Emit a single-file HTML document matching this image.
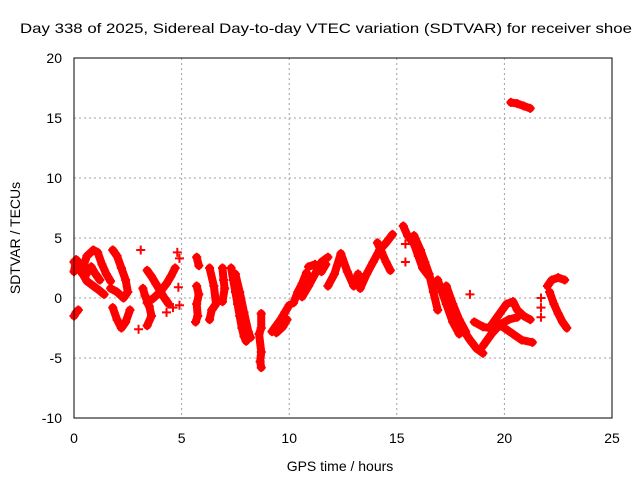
<!DOCTYPE html>
<html><head><meta charset="utf-8"><style>
body{margin:0;background:#fff}
svg{display:block;font-family:"Liberation Sans",sans-serif}
</style></head><body>
<svg id="chart" width="640" height="480" viewBox="0 0 640 480">
<rect width="640" height="480" fill="#fff"/>
<text x="20" y="33" font-size="14" textLength="612" lengthAdjust="spacingAndGlyphs">Day 338 of 2025, Sidereal Day-to-day VTEC variation (SDTVAR) for receiver shoe</text>
<g id="grid"></g>
<g id="ticks" font-size="14"></g>
<g id="marks"></g>
<rect x="74" y="58" width="538" height="360" fill="none" stroke="#000" stroke-width="1"/>
<text x="340" y="471" font-size="14" text-anchor="middle">GPS time / hours</text>
<text transform="translate(20,238) rotate(-90)" font-size="14" text-anchor="middle">SDTVAR / TECUs</text>
</svg>
<script>
const xTicks=[0,5,10,15,20,25];
const yTicks=[-10,-5,0,5,10,15,20];
const trackA=[[0,3.0],[0.2,2.5],[0.4,2.0],[0.6,1.4],[0.9,1.0],[1.2,0.6],[1.4,0.3]];
const trackB=[[0.4,2.5],[0.6,3.5],[0.9,4.0],[1.1,3.8],[1.3,2.8],[1.5,2.0],[1.7,1.4]];
const trackC=[[0,-1.5],[0.1,-1.2],[0.2,-1.0]];
const trackA2=[[0,2.2],[0.1,3.2],[0.3,2.8],[0.5,1.8],[0.8,2.6],[1.0,2.0],[1.2,1.5]];
const trackD=[[1.8,4.0],[2.0,3.5],[2.2,2.5],[2.4,1.5],[2.5,0.5],[2.3,0.0],[2.0,0.5],[1.7,0.8]];
const trackE=[[1.8,-0.8],[2.0,-1.8],[2.2,-2.5],[2.4,-2.0],[2.6,-1.0]];
const trackF=[[3.4,2.3],[3.6,1.8],[3.8,1.2],[4.0,0.6],[4.2,0.0],[4.4,-0.5]];
const trackG=[[3.4,-0.4],[3.7,0.0],[4.0,0.5],[4.3,1.2],[4.5,1.8],[4.7,2.5]];
const trackH=[[3.2,0.8],[3.3,0.2],[3.5,-0.7],[3.6,-1.5],[3.4,-2.3]];
const trackI=[[3.1,4.0],[4.8,3.8],[4.9,3.3],[4.85,0.9],[4.9,-0.6],[3.0,-2.6],[4.6,-0.8],[4.3,-1.2]];
const trackJ1=[[5.7,3.4],[5.8,2.7]];
const trackJ2=[[5.7,1.0],[5.8,0.3],[5.7,-0.5],[5.75,-1.5],[5.65,-2.0]];
const trackK=[[6.3,2.5],[6.5,1.0],[6.6,-0.5],[6.4,-1.0],[6.3,-1.8]];
const trackL=[[6.9,2.5],[6.95,1.5],[7.0,0.8],[6.9,-0.3]];
const trackM=[[7.3,2.5],[7.4,1.5],[7.5,0.5],[7.6,-0.5],[7.7,-1.5],[7.8,-2.5],[7.9,-3.2],[8.0,-3.6]];
const trackN=[[7.5,2.0],[7.7,0.5],[7.9,-1.2],[8.1,-2.8],[8.2,-3.3]];
const trackO=[[8.7,-1.3],[8.7,-2.5],[8.6,-3.0],[8.7,-4.5],[8.65,-5.3],[8.7,-5.8]];
const trackP=[[9.2,-2.8],[9.4,-2.3],[9.6,-1.8],[9.8,-1.2],[10.0,-0.6]];
const trackP2=[[9.4,-2.9],[9.7,-2.4],[9.9,-1.8]];
const trackQ=[[10.2,-0.4],[10.4,0.5],[10.6,1.2],[10.8,2.1],[11.0,1.5]];
const trackR=[[10.6,0.1],[10.9,1.0],[11.2,2.0],[11.5,3.0],[11.8,3.4]];
const trackR2=[[10.9,2.6],[11.2,2.8],[11.5,2.2],[11.7,2.8]];
const trackS=[[11.8,1.0],[12.1,2.0],[12.4,3.7],[12.7,2.2],[13.0,1.0],[13.2,2.0]];
const trackT=[[13.3,0.8],[13.6,2.0],[13.9,3.0],[14.2,4.0],[14.5,4.6],[14.8,5.3]];
const trackU=[[14.1,4.6],[14.3,3.8],[14.5,3.0],[14.7,2.3]];
const trackV=[[15.3,6.0],[15.5,5.2],[15.8,4.5],[16.0,3.5],[16.2,2.5],[16.5,1.8]];
const trackW=[[15.8,5.2],[16.1,4.0],[16.3,3.0],[16.5,2.0],[16.7,0.5],[16.9,-1.0]];
const trackX=[[16.9,1.5],[17.1,0.5],[17.3,-0.5],[17.6,-2.0],[17.9,-3.0]];
const trackY=[[17.3,1.0],[17.6,-0.5],[17.9,-1.8],[18.2,-2.8]];
const trackZ=[[18.1,-2.7],[18.4,-3.5],[18.7,-4.2],[19.0,-4.6]];
const trackLoop=[[18.6,-2.0],[19.0,-2.4],[19.3,-2.5],[19.7,-1.5],[20.1,-0.5],[20.4,-0.3],[20.6,-1.0],[20.9,-1.5],[21.2,-1.8]];
const trackLow=[[19.0,-4.0],[19.4,-3.0],[19.8,-2.2],[20.2,-1.8],[20.6,-1.6]];
const trackLow2=[[19.8,-2.3],[20.0,-2.5],[20.4,-3.0],[20.8,-3.5],[21.3,-3.7]];
const trackAA=[[21.7,0.0],[21.7,-0.8],[21.7,-1.6],[15.4,4.5],[15.4,3.0],[18.4,0.3],[17.8,-2.5]];
const trackAB=[[22.0,1.0],[22.2,1.5],[22.5,1.7],[22.8,1.5]];
const trackAC=[[22.1,0.5],[22.3,-0.5],[22.5,-1.3],[22.7,-2.0],[22.9,-2.5]];
const trackTop=[[20.3,16.3],[20.6,16.2],[20.9,16.0],[21.2,15.8]];
const tracks=[trackA,trackA2,trackB,trackC,trackD,trackE,trackF,trackG,trackH,trackJ1,trackJ2,trackK,trackL,trackM,trackN,trackO,trackP,trackP2,trackQ,trackR,trackR2,trackS,trackT,trackU,trackV,trackW,trackX,trackY,trackZ,trackLoop,trackLow,trackLow2,trackAB,trackAC,trackTop];
const singles=[trackI,trackAA];
const NS="http://www.w3.org/2000/svg";
const X0=74,X1=612,Y0=418,Y1=58;
function xs(v){return X0+(v-0)/(25-0)*(X1-X0);}
function ys(v){return Y0-(v+10)/(30)*(Y0-Y1);}
const grid=document.getElementById('grid'),ticks=document.getElementById('ticks'),marks=document.getElementById('marks');
function mk(t,a,p){const e=document.createElementNS(NS,t);for(const k in a)e.setAttribute(k,a[k]);p.appendChild(e);return e;}
xTicks.forEach(v=>{const x=xs(v);
 if(v>0&&v<25){const l=mk('line',{x1:x,x2:x,y1:Y1,y2:Y0,stroke:'#a0a0a0','stroke-dasharray':'2,3'},grid);
 
 }
 const t=mk('text',{x:x,y:443,'text-anchor':'middle'},ticks);t.textContent=v;
 
 });
yTicks.forEach(v=>{const y=ys(v);
 if(v>-10&&v<20){const l=mk('line',{x1:X0,x2:X1,y1:y,y2:y,stroke:'#a0a0a0','stroke-dasharray':'2,3'},grid);
 
 }
 const t=mk('text',{x:62,y:y+5,'text-anchor':'end'},ticks);t.textContent=v;
 
 });
function plus(v){const x=xs(v[0]),y=ys(v[1]);
 const p=mk('path',{d:`M${x-4.5},${y}h9M${x},${y-4.5}v9`,stroke:'#f00','stroke-width':2},marks);
 
 }
tracks.forEach(tr=>{
 const pl=mk('polyline',{points:tr.map(p=>xs(p[0])+','+ys(p[1])).join(' '),fill:'none',stroke:'#f00','stroke-width':8,'stroke-linejoin':'round','stroke-linecap':'round'},marks);
 
 
 tr.forEach(plus);});
singles.forEach(tr=>tr.forEach(plus));
</script>
</body></html>
